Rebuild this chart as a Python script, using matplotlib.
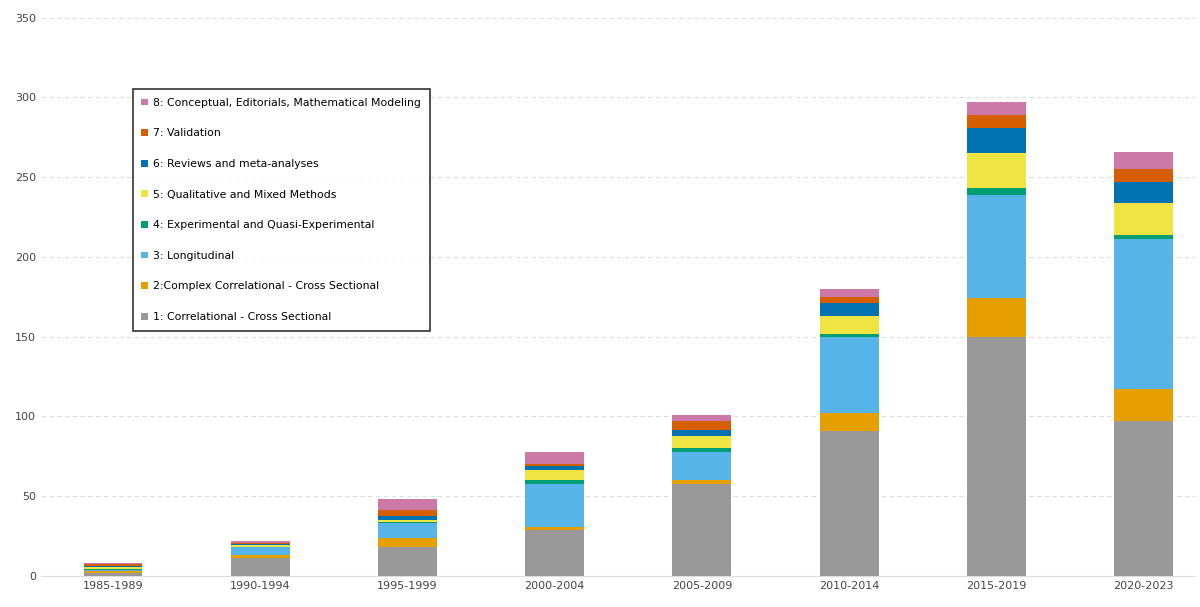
import matplotlib
matplotlib.use("Agg")
import matplotlib.pyplot as plt
import numpy as np

periods = ["1985-1989","1990-1994","1995-1999","2000-2004","2005-2009","2010-2014","2015-2019","2020-2023"]
labels = ["1: Correlational - Cross Sectional","2:Complex Correlational - Cross Sectional","3: Longitudinal",
          "4: Experimental and Quasi-Experimental","5: Qualitative and Mixed Methods","6: Reviews and meta-analyses",
          "7: Validation","8: Conceptual, Editorials, Mathematical Modeling"]
colors = ["#999999","#E69F00","#56B4E9","#009E73","#F0E442","#0072B2","#D55E00","#CC79A7"]
s1 = [2, 11, 18, 29, 58, 91, 150, 97]
s2 = [1, 2, 6, 2, 2, 11, 24, 20]
s3 = [1, 5, 9, 27, 18, 48, 65, 94]
s4 = [0.5, 0.5, 1, 2, 2, 2, 4, 3]
s5 = [1, 1, 1, 6.5, 8, 11, 22, 20]
s6 = [1, 0.5, 2.5, 2.5, 3.5, 8, 16, 13]
s7 = [1, 0.5, 4, 1, 5.5, 4, 8, 8]
s8 = [0.5, 1.5, 6.5, 8, 4, 5, 8, 11]
series = [s1, s2, s3, s4, s5, s6, s7, s8]

fig = plt.figure(figsize=(12, 6.07), dpi=100)
ax = fig.add_axes([0.034, 0.051, 0.962, 0.92])
x = np.arange(len(periods))
bottom = np.zeros(len(periods))
handles = []
for vals, c, lab in zip(series, colors, labels):
    b = ax.bar(x, vals, 0.4, bottom=bottom, color=c, label=lab, zorder=3)
    handles.append(b)
    bottom += np.array(vals)

ax.set_ylim(0, 350)
ax.set_xlim(-0.49, len(periods) - 0.65)
ax.set_yticks(range(0, 351, 50))
ax.set_xticks(x)
ax.set_xticklabels(periods)
ax.tick_params(length=0, labelsize=8, colors="#444444")
ax.yaxis.grid(True, linestyle=(0, (4, 3)), color="#dddddd", zorder=0)
for s in ["top", "right", "left"]:
    ax.spines[s].set_visible(False)
ax.spines["bottom"].set_color("#dddddd")

leg = fig.legend(handles[::-1], labels[::-1], loc="upper left", bbox_to_anchor=(0.106, 0.862),
                 frameon=True, fancybox=False, edgecolor="black", fontsize=7.8,
                 handlelength=0.6, handleheight=0.6, labelspacing=1.9, borderpad=0.8,
                 handletextpad=0.5)
leg.get_frame().set_linewidth(1.2)
fig.savefig("out.png", dpi=100)
